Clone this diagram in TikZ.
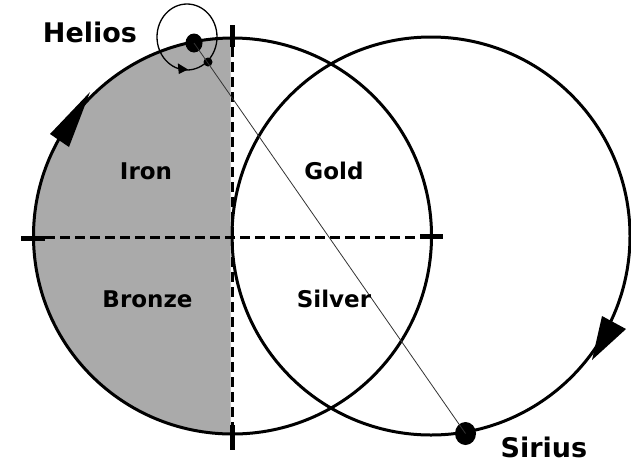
\documentclass[tikz,border=0pt]{standalone}
\usepackage{fontspec}
\setmainfont{DejaVu Sans}
\usetikzlibrary{shapes.geometric}
\definecolor{areagray}{RGB}{170,170,170}
\begin{document}
\begin{tikzpicture}[x=1pt,y=-1pt,
  ring/.style={line width=3pt},
  axisline/.style={line width=2.5pt, dash pattern=on 10pt off 5pt},
  tickmark/.style={line width=4.5pt},
  lbl/.style={font=\fontsize{23}{23}\selectfont\bfseries, anchor=base, inner sep=0pt},
  biglbl/.style={font=\fontsize{27}{27}\selectfont\bfseries, anchor=base, inner sep=0pt},
  planet/.style={ellipse, fill=black, inner sep=0pt},
  arrowhead/.style={fill=black}]
\useasboundingbox (0,0) rectangle (631,464);
% centres
\coordinate (L) at (232.5,236);
\coordinate (R) at (431,236);
% gray left half
\begin{scope}
  \clip (0,0) rectangle (230.5,464);
  \fill[areagray] (L) ellipse [x radius=199pt, y radius=198pt];
\end{scope}
% big circles
\draw[ring] (L) ellipse [x radius=199pt, y radius=198pt];
\draw[ring] (R) ellipse [x radius=199pt, y radius=199pt];
% axes
\coordinate (vt) at (232.5,25);
\coordinate (vt2) at (232.5,47);
\coordinate (vb) at (232.5,450);
\coordinate (vb2) at (232.5,425);
\coordinate (hl) at (21,238.5);
\coordinate (hl2) at (45,238.5);
\coordinate (hr) at (443,236.5);
\coordinate (hr2) at (420,236.5);
\draw[axisline, line width=3pt] (vt2) -- (vb2);
\draw[axisline] (45,237.5) -- (420,237.5);
\draw[tickmark] (vt) -- (vt2);
\draw[tickmark] (vb2) -- (vb);
\draw[tickmark] (hl) -- (hl2);
\draw[tickmark] (hr2) -- (hr);
% small orbit
\coordinate (O) at (187,37);
\draw[line width=1.3pt] (O) ellipse [x radius=30pt, y radius=33pt];
\fill[arrowhead] (188,69.5) -- (177.8,63.3) -- (178.8,74) -- cycle;
% planets
\node[planet, minimum width=17pt, minimum height=19pt] (helios) at (194,43) {};
\node[planet, minimum width=21pt, minimum height=23pt] (sirius) at (465.5,433.5) {};
\node[planet, minimum width=9pt, minimum height=9pt] (moon) at (208,62) {};
\draw[line width=0.8pt, black!80] (helios.center) -- (sirius.center);
% big arrows
\coordinate (a1) at (90,92);
\coordinate (a1b) at (50,134);
\coordinate (a1c) at (69,147);
\fill[arrowhead] (a1) -- (a1b) -- (a1c) -- cycle;
\coordinate (a2) at (592,360);
\coordinate (a2b) at (602,316);
\coordinate (a2c) at (626,329);
\fill[arrowhead] (a2) -- (a2b) -- (a2c) -- cycle;
% labels
\node[biglbl] (tHelios) at (90,42) {Helios};
\node[biglbl] (tSirius) at (544,457) {Sirius};
\node[lbl] (tIron) at (146,179) {Iron};
\node[lbl] (tGold) at (334,179) {Gold};
\node[lbl] (tBronze) at (147.5,307) {Bronze};
\node[lbl] (tSilver) at (334,307) {Silver};
\end{tikzpicture}
\end{document}
